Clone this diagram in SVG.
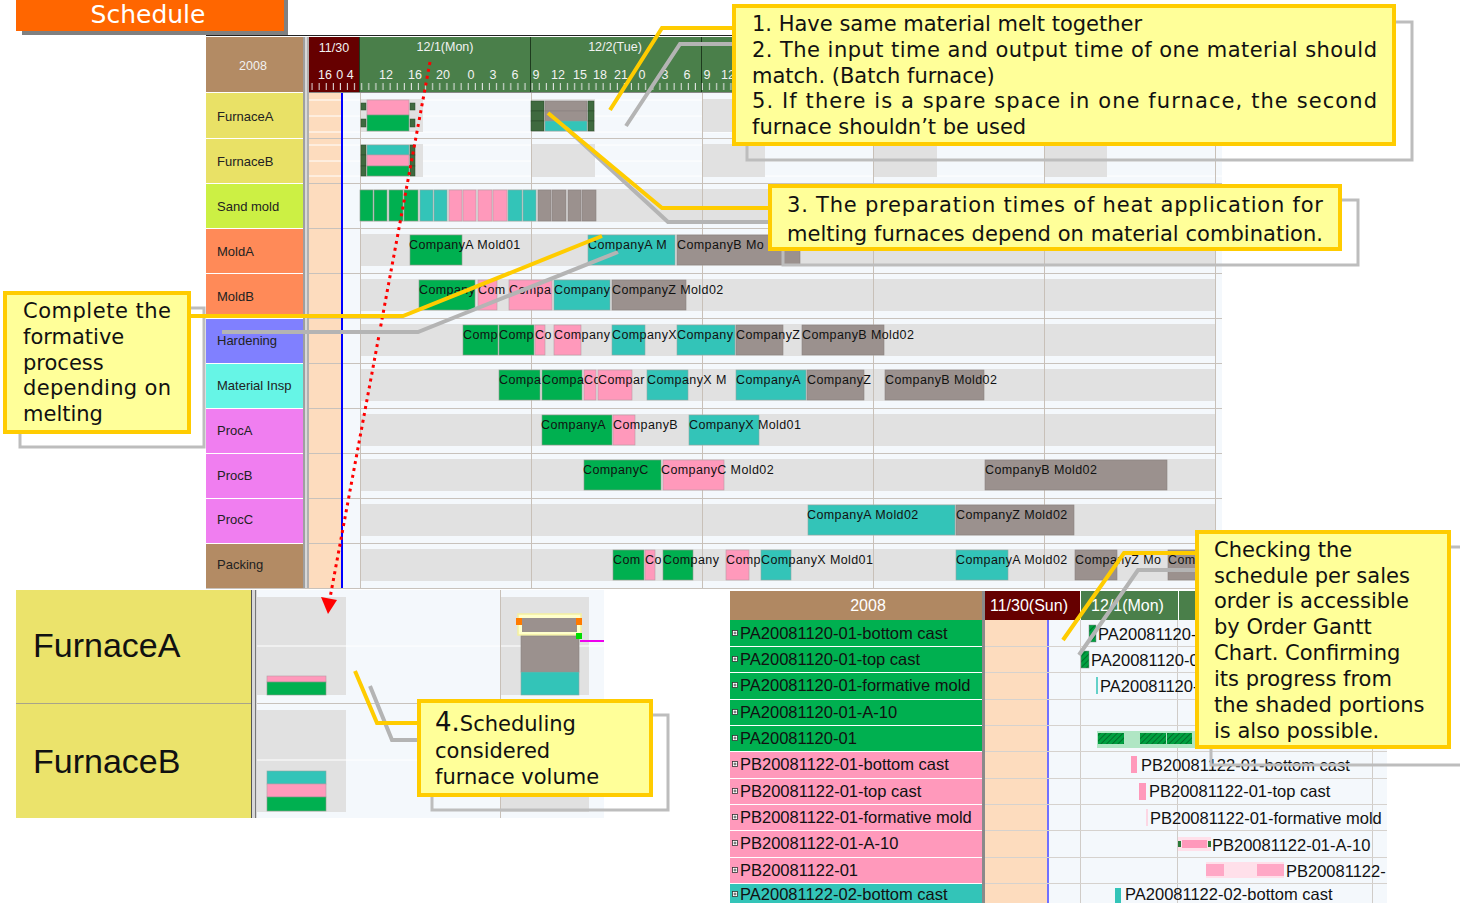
<svg xmlns="http://www.w3.org/2000/svg" width="1460" height="903" viewBox="0 0 1460 903">
<defs>
<style>
.lbl{font-family:"Liberation Sans",Arial,sans-serif;font-size:13px;fill:#222}
.hd{font-family:"Liberation Sans",Arial,sans-serif;font-size:12.5px;fill:#f2f2f2}
.bt{font-family:"Liberation Sans",Arial,sans-serif;font-size:12.5px;letter-spacing:0.4px;fill:#111}
.g{fill:#00b050;stroke:#8a9a8a;stroke-width:0.6}
.p{fill:#ff99bb;stroke:#b89aa4;stroke-width:0.6}
.t{fill:#33c4b8;stroke:#8aa8a4;stroke-width:0.6}
.m{fill:#9b918e;stroke:#8a8280;stroke-width:0.6}
.dk{fill:#3f6a3f;stroke:#2a4a2a;stroke-width:0.5}
.band{fill:#e1e1e1}
.sep{stroke:#c8c2bc;stroke-width:1}
.wl{stroke:#ffffff;stroke-width:1}
.vg{stroke:#c8c0b8;stroke-width:1}
.call{fill:#ffff99;stroke:#ffcc00;stroke-width:4}
.shad{fill:none;stroke:#bdbdbd;stroke-width:3}
.ct{font-family:"DejaVu Sans",Verdana,sans-serif;font-size:21px;fill:#111}
.yl{fill:none;stroke:#ffcc00;stroke-width:4}
.gl{fill:none;stroke:#b4b4b4;stroke-width:4}
.ot{font-family:"Liberation Sans",Arial,sans-serif;font-size:16.5px;fill:#111}
.oh{font-family:"Liberation Sans",Arial,sans-serif;font-size:16px;fill:#ffffff}
.big{font-family:"Liberation Sans",Arial,sans-serif;font-size:34px;fill:#111}
</style>
<pattern id="ticks" x="309" y="0" width="7.1" height="10" patternUnits="userSpaceOnUse">
<line x1="3" y1="3" x2="3" y2="10" stroke="#e8e8e8" stroke-width="1"/>
</pattern>
<pattern id="hatch" width="4" height="4" patternUnits="userSpaceOnUse" patternTransform="rotate(45)">
<rect width="4" height="4" fill="#00a040"/>
<line x1="0" y1="0" x2="0" y2="4" stroke="#005a20" stroke-width="1.4"/>
</pattern>
<symbol id="plus" viewBox="0 0 6 6" width="6" height="6">
<rect x="0.5" y="0.5" width="5" height="5" fill="#ffffff" stroke="#333" stroke-width="0.8"/>
<path d="M1.5 3H4.5M3 1.5V4.5" stroke="#333" stroke-width="0.8"/>
</symbol>
</defs>

<rect width="1460" height="903" fill="#ffffff"/>

<!-- Title banner -->
<g id="title">
<rect x="22" y="-5" width="266" height="40" fill="#808080"/>
<rect x="16" y="-5" width="268" height="36" fill="#ff6600"/>
<text x="148" y="23" text-anchor="middle" font-family="DejaVu Sans, Verdana, sans-serif" font-size="25" fill="#ffffff">Schedule</text>
</g>

<!-- Main Gantt chart -->
<g id="gantt-header">
<line x1="206" y1="35.5" x2="1222" y2="35.5" stroke="#222" stroke-width="1"/>
<rect x="206" y="37" width="97" height="55" fill="#b38b64"/>
<text x="253" y="70" text-anchor="middle" class="hd" fill="#eee">2008</text>
<rect x="303" y="37" width="6" height="551" fill="#d8d8d8"/>
<line x1="304" y1="37" x2="304" y2="588" stroke="#666"/>
<line x1="308" y1="37" x2="308" y2="588" stroke="#888"/>
<rect x="309" y="37" width="50" height="55" fill="#660000"/>
<rect x="360" y="37" width="862" height="55" fill="#4a7f4a"/>
<line x1="359.5" y1="37" x2="359.5" y2="92" stroke="#1e3a1e"/>
<line x1="530.5" y1="37" x2="530.5" y2="92" stroke="#1e3a1e"/>
<line x1="701.5" y1="37" x2="701.5" y2="92" stroke="#1e3a1e"/>
<rect x="309" y="82" width="913" height="10" fill="url(#ticks)"/>
<text x="334" y="52" text-anchor="middle" class="hd">11/30</text>
<text x="325" y="79" text-anchor="middle" class="hd">16</text>
<text x="345" y="79" text-anchor="middle" class="hd">0 4</text>
<text x="445" y="51" text-anchor="middle" class="hd">12/1(Mon)</text>
<text x="615" y="51" text-anchor="middle" class="hd">12/2(Tue)</text>
<g class="hd" text-anchor="middle">
<text x="386" y="79">12</text><text x="415" y="79">16</text><text x="443" y="79">20</text><text x="471" y="79">0</text><text x="493" y="79">3</text><text x="515" y="79">6</text>
<text x="536" y="79">9</text><text x="558" y="79">12</text><text x="580" y="79">15</text><text x="600" y="79">18</text><text x="621" y="79">21</text><text x="642" y="79">0</text><text x="665" y="79">3</text><text x="687" y="79">6</text>
<text x="707" y="79">9</text><text x="728" y="79">12</text>
</g>
<line x1="309" y1="92.5" x2="1222" y2="92.5" stroke="#888"/>
</g>

<g id="gantt-body">
<rect x="309" y="93" width="913" height="495" fill="#f4f8fc"/>
<rect x="309" y="93" width="33" height="495" fill="#fddcbe"/>
<line x1="309" y1="100" x2="1222" y2="100" class="wl"/>
<line x1="309" y1="116" x2="1222" y2="116" class="wl"/>
<line x1="309" y1="132" x2="1222" y2="132" class="wl"/>
<line x1="309" y1="145" x2="1222" y2="145" class="wl"/>
<line x1="309" y1="161" x2="1222" y2="161" class="wl"/>
<line x1="309" y1="176" x2="1222" y2="176" class="wl"/>
<g class="band">
<rect x="360" y="99" width="63" height="33"/><rect x="531" y="99" width="64" height="33"/><rect x="702" y="99" width="63" height="33"/><rect x="873" y="99" width="64" height="33"/><rect x="1044" y="99" width="63" height="33"/>
<rect x="360" y="144" width="63" height="33"/><rect x="531" y="144" width="64" height="33"/><rect x="702" y="144" width="63" height="33"/><rect x="873" y="144" width="64" height="33"/><rect x="1044" y="144" width="63" height="33"/>
<rect x="360" y="189" width="855" height="33"/>
<rect x="360" y="234" width="855" height="32"/>
<rect x="360" y="279" width="855" height="32"/>
<rect x="360" y="324" width="855" height="32"/>
<rect x="360" y="369" width="855" height="32"/>
<rect x="360" y="414" width="855" height="32"/>
<rect x="360" y="459" width="855" height="32"/>
<rect x="360" y="504" width="855" height="32"/>
<rect x="360" y="549" width="855" height="32"/>
</g>
<g class="sep">
<line x1="309" y1="138.5" x2="1222" y2="138.5"/><line x1="309" y1="183.5" x2="1222" y2="183.5"/><line x1="309" y1="228.5" x2="1222" y2="228.5"/><line x1="309" y1="273.5" x2="1222" y2="273.5"/><line x1="309" y1="318.5" x2="1222" y2="318.5"/><line x1="309" y1="363.5" x2="1222" y2="363.5"/><line x1="309" y1="408.5" x2="1222" y2="408.5"/><line x1="309" y1="453.5" x2="1222" y2="453.5"/><line x1="309" y1="498.5" x2="1222" y2="498.5"/><line x1="309" y1="543.5" x2="1222" y2="543.5"/><line x1="206" y1="588.5" x2="1222" y2="588.5"/>
</g>
<g class="vg">
<line x1="360.5" y1="93" x2="360.5" y2="588"/><line x1="531.5" y1="93" x2="531.5" y2="588"/><line x1="702.5" y1="93" x2="702.5" y2="588"/><line x1="873.5" y1="93" x2="873.5" y2="588"/><line x1="1044.5" y1="93" x2="1044.5" y2="588"/><line x1="1215.5" y1="93" x2="1215.5" y2="588"/>
</g>
<line x1="342" y1="93" x2="342" y2="588" stroke="#0000ff" stroke-width="2"/>
</g>

<g id="row-labels">
<rect x="206" y="93" width="97" height="45" fill="#e9e166"/>
<rect x="206" y="139" width="97" height="44" fill="#e9e166"/>
<rect x="206" y="184" width="97" height="44" fill="#ccf044"/>
<rect x="206" y="229" width="97" height="44" fill="#ff8a58"/>
<rect x="206" y="274" width="97" height="44" fill="#ff8a58"/>
<rect x="206" y="319" width="97" height="44" fill="#8080ff"/>
<rect x="206" y="364" width="97" height="44" fill="#66f5e6"/>
<rect x="206" y="409" width="97" height="44" fill="#f07ef0"/>
<rect x="206" y="454" width="97" height="44" fill="#f07ef0"/>
<rect x="206" y="499" width="97" height="44" fill="#f07ef0"/>
<rect x="206" y="544" width="97" height="44" fill="#b38b64"/>
<text x="217" y="121" class="lbl">FurnaceA</text>
<text x="217" y="166" class="lbl">FurnaceB</text>
<text x="217" y="211" class="lbl">Sand mold</text>
<text x="217" y="256" class="lbl">MoldA</text>
<text x="217" y="301" class="lbl">MoldB</text>
<text x="217" y="345" class="lbl">Hardening</text>
<text x="217" y="390" class="lbl">Material Insp</text>
<text x="217" y="435" class="lbl">ProcA</text>
<text x="217" y="480" class="lbl">ProcB</text>
<text x="217" y="524" class="lbl">ProcC</text>
<text x="217" y="569" class="lbl">Packing</text>
</g>

<g id="furnace-bars">
<rect class="dk" x="361" y="103" width="5" height="7"/><rect class="dk" x="361" y="119" width="5" height="8"/>
<rect class="dk" x="410" y="103" width="5" height="7"/><rect class="dk" x="410" y="119" width="5" height="8"/>
<rect class="p" x="367" y="100" width="42" height="15"/><rect class="g" x="367" y="115" width="42" height="16"/>
<rect class="dk" x="531" y="101" width="13" height="10"/><rect class="dk" x="531" y="111" width="13" height="10"/><rect class="dk" x="531" y="121" width="13" height="10"/>
<rect class="m" x="545" y="101" width="42" height="10"/><rect class="m" x="545" y="111" width="42" height="10"/><rect class="t" x="545" y="121" width="42" height="10"/>
<rect class="dk" x="588" y="101" width="6" height="10"/><rect class="dk" x="588" y="111" width="6" height="10"/><rect class="dk" x="588" y="121" width="6" height="10"/>
<rect class="dk" x="361" y="145" width="5" height="10"/><rect class="dk" x="361" y="155" width="5" height="11"/><rect class="dk" x="361" y="166" width="5" height="10"/>
<rect class="t" x="367" y="145" width="42" height="10"/><rect class="p" x="367" y="155" width="42" height="11"/><rect class="g" x="367" y="166" width="42" height="10"/>
<rect class="dk" x="410" y="145" width="5" height="10"/><rect class="dk" x="410" y="155" width="5" height="11"/><rect class="dk" x="410" y="166" width="5" height="10"/>
</g>

<g id="sandmold-bars">
<rect class="g" x="360" y="190" width="13" height="31"/><rect class="g" x="374" y="190" width="13" height="31"/><rect class="g" x="389" y="190" width="14" height="31"/><rect class="g" x="404" y="190" width="14" height="31"/>
<rect class="t" x="420" y="190" width="13" height="31"/><rect class="t" x="434" y="190" width="13" height="31"/>
<rect class="p" x="449" y="190" width="13" height="31"/><rect class="p" x="463" y="190" width="13" height="31"/><rect class="p" x="478" y="190" width="14" height="31"/><rect class="p" x="493" y="190" width="14" height="31"/>
<rect class="t" x="508" y="190" width="14" height="31"/><rect class="t" x="523" y="190" width="13" height="31"/>
<rect class="m" x="538" y="190" width="13" height="31"/><rect class="m" x="552" y="190" width="14" height="31"/><rect class="m" x="568" y="190" width="13" height="31"/><rect class="m" x="582" y="190" width="14" height="31"/>
</g>

<g id="molda-bars">
<rect class="g" x="410" y="235" width="52" height="30"/><text class="bt" x="409" y="249">CompanyA Mold01</text>
<rect class="t" x="588" y="235" width="87" height="30"/><text class="bt" x="588" y="249">CompanyA M</text>
<rect class="m" x="677" y="235" width="123" height="30"/><text class="bt" x="677" y="249">CompanyB Mo</text>
</g>

<g id="moldb-bars">
<rect class="g" x="419" y="280" width="56" height="30"/><text class="bt" x="419" y="294">Company</text>
<rect class="p" x="478" y="280" width="19" height="30"/><text class="bt" x="478" y="294">Com</text>
<rect class="p" x="509" y="280" width="43" height="30"/><text class="bt" x="509" y="294">Compa</text>
<rect class="t" x="554" y="280" width="56" height="30"/><text class="bt" x="554" y="294">Company</text>
<rect class="m" x="612" y="280" width="74" height="30"/><text class="bt" x="612" y="294">CompanyZ Mold02</text>
</g>

<g id="hardening-bars">
<rect class="g" x="463" y="325" width="35" height="30"/><text class="bt" x="463" y="339">Comp</text>
<rect class="g" x="499" y="325" width="35" height="30"/><text class="bt" x="499" y="339">Comp</text>
<rect class="p" x="535" y="325" width="10" height="30"/><text class="bt" x="535" y="339">Co</text>
<rect class="p" x="554" y="325" width="27" height="30"/><text class="bt" x="554" y="339">Company</text>
<rect class="t" x="612" y="325" width="33" height="30"/><text class="bt" x="612" y="339">CompanyX</text>
<rect class="t" x="677" y="325" width="58" height="30"/><text class="bt" x="677" y="339">Company</text>
<rect class="m" x="736" y="325" width="47" height="30"/><text class="bt" x="736" y="339">CompanyZ</text>
<rect class="m" x="802" y="325" width="82" height="30"/><text class="bt" x="802" y="339">CompanyB Mold02</text>
</g>

<g id="matinsp-bars">
<rect class="g" x="499" y="370" width="41" height="30"/><text class="bt" x="499" y="384">Compa</text>
<rect class="g" x="542" y="370" width="40" height="30"/><text class="bt" x="542" y="384">Compa</text>
<rect class="p" x="584" y="370" width="12" height="30"/><text class="bt" x="584" y="384">Co</text>
<rect class="p" x="598" y="370" width="34" height="30"/><text class="bt" x="598" y="384">Compar</text>
<rect class="t" x="647" y="370" width="41" height="30"/><text class="bt" x="647" y="384">CompanyX M</text>
<rect class="t" x="736" y="370" width="70" height="30"/><text class="bt" x="736" y="384">CompanyA</text>
<rect class="m" x="807" y="370" width="57" height="30"/><text class="bt" x="807" y="384">CompanyZ</text>
<rect class="m" x="885" y="370" width="99" height="30"/><text class="bt" x="885" y="384">CompanyB Mold02</text>
</g>

<g id="proca-bars">
<rect class="g" x="542" y="415" width="70" height="30"/><text class="bt" x="541" y="429">CompanyA</text>
<rect class="p" x="613" y="415" width="22" height="30"/><text class="bt" x="613" y="429">CompanyB</text>
<rect class="t" x="689" y="415" width="70" height="30"/><text class="bt" x="689" y="429">CompanyX Mold01</text>
</g>

<g id="procb-bars">
<rect class="g" x="584" y="460" width="77" height="30"/><text class="bt" x="583" y="474">CompanyC</text>
<rect class="p" x="663" y="460" width="61" height="30"/><text class="bt" x="661" y="474">CompanyC Mold02</text>
<rect class="m" x="985" y="460" width="182" height="30"/><text class="bt" x="985" y="474">CompanyB Mold02</text>
</g>

<g id="procc-bars">
<rect class="t" x="808" y="505" width="147" height="30"/><text class="bt" x="807" y="519">CompanyA Mold02</text>
<rect class="m" x="956" y="505" width="118" height="30"/><text class="bt" x="956" y="519">CompanyZ Mold02</text>
</g>

<g id="packing-bars">
<rect class="g" x="613" y="550" width="31" height="30"/><text class="bt" x="613" y="564">Com</text>
<rect class="p" x="645" y="550" width="10" height="30"/><text class="bt" x="645" y="564">Co</text>
<rect class="g" x="663" y="550" width="30" height="30"/><text class="bt" x="663" y="564">Company</text>
<rect class="p" x="726" y="550" width="23" height="30"/><text class="bt" x="726" y="564">Comp</text>
<rect class="t" x="761" y="550" width="30" height="30"/><text class="bt" x="761" y="564">CompanyX Mold01</text>
<rect class="t" x="956" y="550" width="52" height="30"/><text class="bt" x="956" y="564">CompanyA Mold02</text>
<rect class="m" x="1075" y="550" width="42" height="30"/><text class="bt" x="1075" y="564">CompanyZ Mo</text>
<rect class="m" x="1168" y="550" width="32" height="30"/><text class="bt" x="1168" y="564">Com</text>
</g>

<!-- Zoomed furnace panel -->
<g id="furnace-zoom">
<rect x="16" y="590" width="235" height="228" fill="#ebe36b"/>
<line x1="16" y1="703.5" x2="251" y2="703.5" stroke="#a8a48a"/>
<text x="33" y="657" class="big">FurnaceA</text>
<text x="33" y="773" class="big">FurnaceB</text>
<rect x="251" y="590" width="6" height="228" fill="#d8d8d8"/>
<line x1="251.5" y1="590" x2="251.5" y2="818" stroke="#555"/>
<line x1="255.5" y1="590" x2="255.5" y2="818" stroke="#777"/>
<rect x="257" y="590" width="347" height="228" fill="#f4f8fc"/>
<rect x="257" y="597" width="89" height="98" class="band"/>
<rect x="257" y="710" width="89" height="102" class="band"/>
<rect x="500" y="597" width="89" height="98" class="band"/>
<rect x="500" y="710" width="89" height="102" class="band"/>
<line x1="257" y1="646" x2="604" y2="646" class="wl"/>
<line x1="257" y1="760" x2="604" y2="760" class="wl"/>
<line x1="257" y1="703.5" x2="604" y2="703.5" stroke="#c8c2bc"/>
<line x1="500.5" y1="590" x2="500.5" y2="818" stroke="#c8c0b8"/>
<rect class="p" x="267" y="676" width="59" height="6"/>
<rect class="g" x="267" y="682" width="59" height="13"/>
<rect class="t" x="267" y="771" width="59" height="13"/>
<rect class="p" x="267" y="784" width="59" height="13"/>
<rect class="g" x="267" y="797" width="59" height="14"/>
<rect x="518" y="614" width="63" height="21" fill="#ffffcc" stroke="#f4f0a0" stroke-width="1.5"/>
<rect x="522" y="618" width="55" height="14" fill="#9b918e"/>
<rect class="m" x="521" y="636" width="58" height="36"/>
<rect class="t" x="521" y="672" width="58" height="23"/>
<rect x="516" y="618" width="6" height="7" fill="#ff7a00"/>
<rect x="576" y="618" width="6" height="7" fill="#ff7a00"/>
<rect x="576" y="633" width="6" height="6" fill="#00dd00"/>
<line x1="580" y1="641" x2="604" y2="641" stroke="#ee00ee" stroke-width="2"/>
</g>

<!-- Order Gantt chart -->
<g id="order-gantt">
<rect x="730" y="591" width="252" height="29" fill="#b08862"/>
<text x="868" y="611" text-anchor="middle" class="oh">2008</text>
<rect x="982" y="591" width="3" height="312" fill="#8a8a8a"/>
<rect x="985" y="591" width="95" height="29" fill="#660000"/>
<rect x="1081" y="591" width="97" height="29" fill="#4a7f4a"/>
<rect x="1179" y="591" width="30" height="29" fill="#4a7f4a"/>
<text x="990" y="611" class="oh">11/30(Sun)</text>
<text x="1091" y="611" class="oh">12/1(Mon)</text>
<rect x="985" y="620" width="62" height="283" fill="#fddcbe"/>
<rect x="1048" y="620" width="339" height="283" fill="#f4f8fc"/>
<line x1="1048" y1="620" x2="1048" y2="903" stroke="#7070ff" stroke-width="2"/>
<line x1="1080.5" y1="620" x2="1080.5" y2="903" stroke="#d0ccc8"/>
<line x1="1177.5" y1="620" x2="1177.5" y2="903" stroke="#d0ccc8"/>
<line x1="1372.5" y1="620" x2="1372.5" y2="903" stroke="#d0ccc8"/>
<rect x="730" y="620" width="252" height="26" fill="#00b050"/>
<rect x="730" y="647" width="252" height="25" fill="#00b050"/>
<rect x="730" y="673" width="252" height="26" fill="#00b050"/>
<rect x="730" y="700" width="252" height="25" fill="#00b050"/>
<rect x="730" y="726" width="252" height="25" fill="#00b050"/>
<rect x="730" y="752" width="252" height="26" fill="#ff99bb"/>
<rect x="730" y="779" width="252" height="25" fill="#ff99bb"/>
<rect x="730" y="805" width="252" height="25" fill="#ff99bb"/>
<rect x="730" y="831" width="252" height="26" fill="#ff99bb"/>
<rect x="730" y="858" width="252" height="25" fill="#ff99bb"/>
<rect x="730" y="884" width="252" height="19" fill="#33c4b8"/>
<g stroke="#d6d2ce">
<line x1="985" y1="646.5" x2="1387" y2="646.5"/><line x1="985" y1="672.5" x2="1387" y2="672.5"/><line x1="985" y1="699.5" x2="1387" y2="699.5"/><line x1="985" y1="725.5" x2="1387" y2="725.5"/><line x1="985" y1="751.5" x2="1387" y2="751.5"/><line x1="985" y1="778.5" x2="1387" y2="778.5"/><line x1="985" y1="804.5" x2="1387" y2="804.5"/><line x1="985" y1="830.5" x2="1387" y2="830.5"/><line x1="985" y1="857.5" x2="1387" y2="857.5"/><line x1="985" y1="883.5" x2="1387" y2="883.5"/>
</g>
<use href="#plus" x="732" y="630"/><text x="740" y="639" class="ot">PA20081120-01-bottom cast</text>
<use href="#plus" x="732" y="656"/><text x="740" y="665" class="ot">PA20081120-01-top cast</text>
<use href="#plus" x="732" y="682"/><text x="740" y="691" class="ot">PA20081120-01-formative mold</text>
<use href="#plus" x="732" y="709"/><text x="740" y="718" class="ot">PA20081120-01-A-10</text>
<use href="#plus" x="732" y="735"/><text x="740" y="744" class="ot">PA20081120-01</text>
<use href="#plus" x="732" y="761"/><text x="740" y="770" class="ot">PB20081122-01-bottom cast</text>
<use href="#plus" x="732" y="788"/><text x="740" y="797" class="ot">PB20081122-01-top cast</text>
<use href="#plus" x="732" y="814"/><text x="740" y="823" class="ot">PB20081122-01-formative mold</text>
<use href="#plus" x="732" y="840"/><text x="740" y="849" class="ot">PB20081122-01-A-10</text>
<use href="#plus" x="732" y="867"/><text x="740" y="876" class="ot">PB20081122-01</text>
<use href="#plus" x="732" y="891"/><text x="740" y="900" class="ot">PA20081122-02-bottom cast</text>
<rect x="1089" y="625" width="7" height="17" fill="url(#hatch)" stroke="#888" stroke-width="0.5"/>
<text x="1098" y="640" class="ot">PA20081120-</text>
<rect x="1081" y="651" width="8" height="17" fill="url(#hatch)" stroke="#888" stroke-width="0.5"/>
<text x="1091" y="666" class="ot">PA20081120-0</text>
<line x1="1097" y1="677" x2="1097" y2="694" stroke="#33c4b8" stroke-width="1.5"/>
<text x="1100" y="692" class="ot">PA20081120-</text>
<rect x="1097" y="731" width="100" height="17" fill="#b0e6c4"/>
<rect x="1098" y="733" width="26" height="11" fill="url(#hatch)"/>
<rect x="1140" y="733" width="26" height="11" fill="url(#hatch)"/>
<rect x="1167" y="733" width="25" height="11" fill="url(#hatch)"/>
<rect x="1131" y="756" width="6" height="17" fill="#ff99bb"/>
<text x="1141" y="771" class="ot">PB20081122-01-bottom cast</text>
<rect x="1139" y="783" width="7" height="17" fill="#ff99bb"/>
<text x="1149" y="797" class="ot">PB20081122-01-top cast</text>
<line x1="1147" y1="809" x2="1147" y2="826" stroke="#ffccdd" stroke-width="1.5"/>
<text x="1150" y="824" class="ot">PB20081122-01-formative mold</text>
<rect x="1178" y="837" width="33" height="14" fill="#ffe0ea"/>
<rect x="1182" y="840" width="25" height="8" fill="#ff99bb"/>
<rect x="1178" y="841" width="3" height="6" fill="#2a7a3a"/>
<rect x="1208" y="841" width="3" height="6" fill="#2a7a3a"/>
<text x="1212" y="851" class="ot">PB20081122-01-A-10</text>
<rect x="1206" y="862" width="78" height="16" fill="#ffe0ea"/>
<rect x="1206" y="864" width="18" height="12" fill="#ffa8c6"/>
<rect x="1257" y="864" width="27" height="12" fill="#ffa8c6"/>
<text x="1286" y="877" class="ot">PB20081122-</text>
<rect x="1115" y="888" width="6" height="15" fill="#33c4b8"/>
<text x="1125" y="900" class="ot">PA20081122-02-bottom cast</text>
</g>

<!-- red dotted arrow -->
<g id="red-arrow">
<line x1="430" y1="62" x2="330" y2="598" stroke="#ff0000" stroke-width="3" stroke-dasharray="3 4"/>
<polygon points="321,597 337,600 328,614" fill="#ff0000"/>
</g>

<!-- callout shadows -->
<g id="shadows">
<rect class="shad" x="747" y="22" width="665" height="138"/>
<rect class="shad" x="783" y="200" width="575" height="65"/>
<rect class="shad" x="20" y="308" width="184" height="139"/>
<rect class="shad" x="432" y="715" width="236" height="95"/>
<rect class="shad" x="1211" y="547" width="260" height="218"/>
</g>

<!-- connectors -->
<g id="connectors">
<path class="gl" d="M732 44H680L626 126"/>
<path class="gl" d="M566 128L668 222H768"/>
<path class="gl" d="M222 332H418L618 252"/>
<path class="gl" d="M370 686L392 740H432"/>
<path class="gl" d="M1211 570H1138L1079 655"/>
<path class="yl" d="M732 28H662L610 110"/>
<path class="yl" d="M548 113L662 208H768"/>
<path class="yl" d="M191 316H403L602 236"/>
<path class="yl" d="M355 671L377 723H417"/>
<path class="yl" d="M1195 553H1124L1063 640"/>
</g>

<!-- callouts -->
<g id="callout-1">
<rect class="call" x="734" y="6" width="660" height="138"/>
<text class="ct" x="752" y="31">1. Have same material melt together</text>
<text class="ct" x="752" y="57" textLength="625" lengthAdjust="spacing">2. The input time and output time of one material should</text>
<text class="ct" x="752" y="83">match. (Batch furnace)</text>
<text class="ct" x="752" y="108" textLength="625" lengthAdjust="spacing">5. If there is a spare space in one furnace, the second</text>
<text class="ct" x="752" y="134">furnace shouldn’t be used</text>
</g>

<g id="callout-3">
<rect class="call" x="770" y="186" width="570" height="63"/>
<text class="ct" x="787" y="212" textLength="536" lengthAdjust="spacing">3. The preparation times of heat application for</text>
<text class="ct" x="787" y="241" textLength="536" lengthAdjust="spacing">melting furnaces depend on material combination.</text>
</g>

<g id="callout-formative">
<rect class="call" x="5" y="293" width="184" height="139"/>
<text class="ct" x="23" y="318" textLength="148" lengthAdjust="spacing">Complete the</text>
<text class="ct" x="23" y="344">formative</text>
<text class="ct" x="23" y="370">process</text>
<text class="ct" x="23" y="395" textLength="148" lengthAdjust="spacing">depending on</text>
<text class="ct" x="23" y="421">melting</text>
</g>

<g id="callout-4">
<rect class="call" x="419" y="701" width="232" height="94"/>
<text class="ct" x="435" y="731"><tspan font-size="26">4.</tspan><tspan font-size="21">Scheduling</tspan></text>
<text class="ct" x="435" y="758">considered</text>
<text class="ct" x="435" y="784">furnace volume</text>
</g>

<g id="callout-5">
<rect class="call" x="1197" y="532" width="252" height="215"/>
<text class="ct" x="1214" y="557">Checking the</text>
<text class="ct" x="1214" y="583">schedule per sales</text>
<text class="ct" x="1214" y="608">order is accessible</text>
<text class="ct" x="1214" y="634">by Order Gantt</text>
<text class="ct" x="1214" y="660">Chart. Confirming</text>
<text class="ct" x="1214" y="686">its progress from</text>
<text class="ct" x="1214" y="712">the shaded portions</text>
<text class="ct" x="1214" y="738">is also possible.</text>
</g>
</svg>
